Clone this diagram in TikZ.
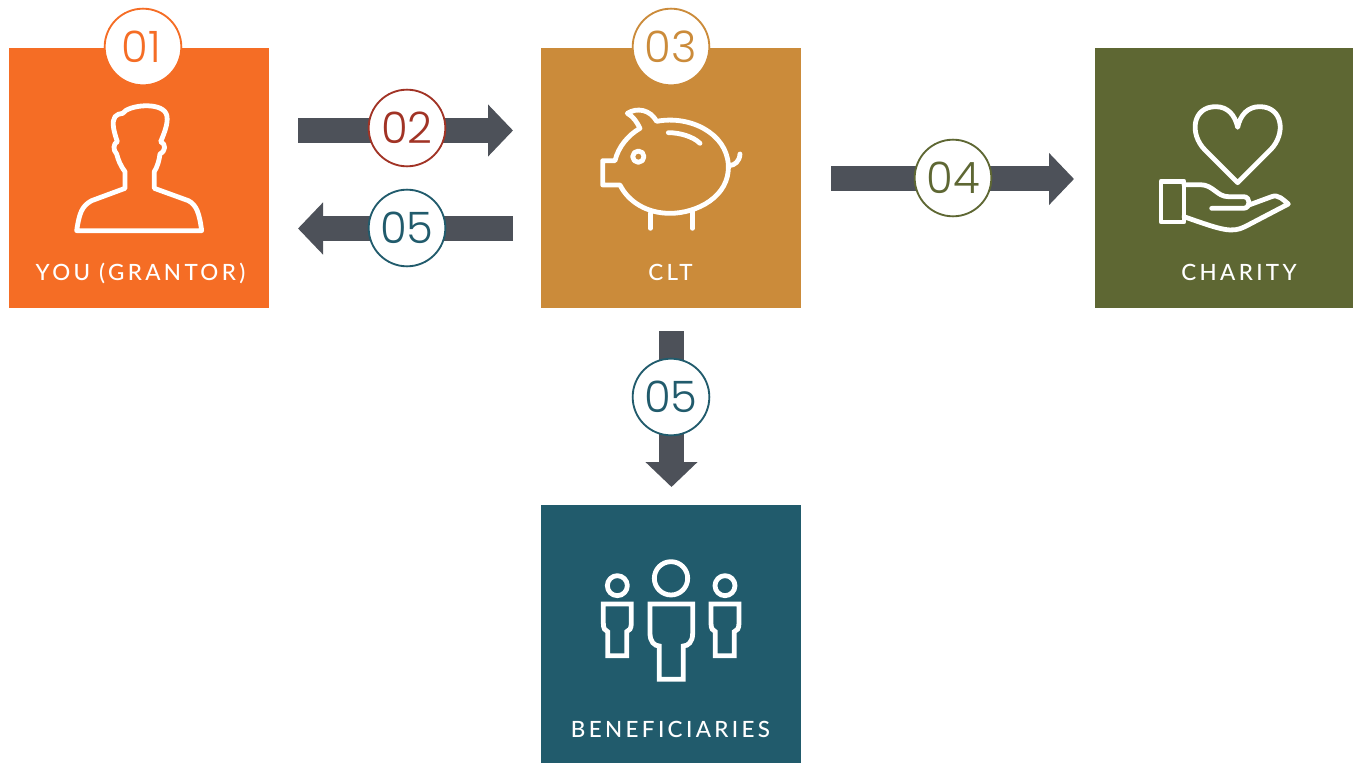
\documentclass[tikz,border=0pt]{standalone}
\usepackage{fontspec}
\newfontfamily\numfont{Poppins Light}
\newfontfamily\tagfont[LetterSpace=15]{Lato Medium}
\usetikzlibrary{arrows.meta,positioning}
\definecolor{youorange}{HTML}{F56D25}
\definecolor{cltgold}{HTML}{CB8B3A}
\definecolor{charityolive}{HTML}{5E6733}
\definecolor{benefteal}{HTML}{215B6C}
\definecolor{arcgray}{HTML}{4D5159}
\definecolor{stepred}{HTML}{A13325}
\tikzset{
	party/.style={
		rectangle,
		inner sep=0pt,
		outer sep=0pt,
		minimum width=195pt,
		minimum height=195pt,
	},
	tag/.style={
		font=\tagfont\fontsize{16.8pt}{20pt}\selectfont,
		text=white,
		inner sep=0pt,
		anchor=base,
	},
	num/.style={
		circle,
		fill=white,
		draw=#1,
		text=#1,
		line width=1.4pt,
		minimum size=57.5pt,
		inner sep=0pt,
		font=\numfont\fontsize{32.5pt}{36pt}\selectfont,
	},
	arc/.style={
		-{Triangle[length=18.75pt,width=38pt]},
		line width=18.75pt,
		arcgray,
	},
	icon/.style={
		draw=white,
		line width=3.6pt,
		line cap=round,
		line join=round,
	},
}

\begin{document}
\begin{tikzpicture}[x=0.75pt,y=-0.75pt]
	\useasboundingbox (0,0) rectangle (1354,763);

	\node [party,fill=youorange] (you) at (139,178) {};
	\node [party,fill=cltgold,right=204pt of you] (clt) {};
	\node [party,fill=charityolive,right=220.5pt of clt,minimum width=193.5pt] (charity) {};
	\node [party,fill=benefteal,below=147.75pt of clt,minimum height=193.5pt] (benef) {};

	\node [tag] (youtag) at (140.5,280.5) {YOU (GRANTOR)};
	\node [tag] (clttag) at (670.5,280.5) {CLT};
	\node [tag] (charitytag) at (1239,280.5) {CHARITY};
	\node [tag] (beneftag) at (670.5,737.5) {BENEFICIARIES};

	\coordinate (a1) at (298,130.5);
	\coordinate (a2) at (513,130.5);
	\coordinate (b1) at (513,228.5);
	\coordinate (b2) at (298,228.5);
	\coordinate (c1) at (831,179);
	\coordinate (c2) at (1074,179);
	\coordinate (d1) at (671.5,331);
	\coordinate (d2) at (671.5,487);

	\draw[arc] (a1) -- (a2);
	\draw[arc] (b1) -- (b2);
	\draw[arc] (c1) -- (c2);
	\draw[arc] (d1) -- (d2);

	\node [num=youorange] (n1) at (143,47) {\kern-3pt 01};
	\node [num=stepred] (n2) at (407,128) {02};
	\node [num=cltgold] (n3) at (671,47) {03};
	\node [num=benefteal] (n5) at (407,228) {05};
	\node [num=charityolive] (n4) at (953,178) {04};
	\node [num=benefteal] (n6) at (671,397) {05};

	% person
	\begin{scope}[shift={(0,0)},x=0.25pt,y=-0.25pt]
		\draw[icon] (230,692) .. controls (238,640) and (245,618) .. (275,602)
			-- (375,565) -- (375,515) .. controls (360,495) and (355,480) .. (350,462)
			.. controls (338,450) and (340,430) .. (352,425)
			.. controls (340,390) and (335,365) .. (345,350)
			.. controls (350,342) and (360,342) .. (368,340)
			.. controls (385,315) and (480,305) .. (498,340)
			.. controls (508,360) and (495,395) .. (482,425)
			.. controls (498,432) and (498,452) .. (480,462)
			.. controls (478,480) and (472,500) .. (463,515)
			-- (463,565) -- (565,602) .. controls (590,615) and (598,640) .. (605,692) -- cycle;
	\end{scope}

	% piggy bank
	\begin{scope}[shift={(530,0)},x=0.25pt,y=-0.25pt]
		\draw[icon] (330,385) .. controls (320,365) and (310,350) .. (292,340)
			.. controls (320,322) and (360,328) .. (380,364)
			.. controls (480,345) and (590,400) .. (595,495)
			.. controls (600,590) and (500,640) .. (420,640)
			.. controls (350,640) and (295,605) .. (270,555)
			-- (218,555) -- (218,482) -- (255,482)
			.. controls (265,440) and (295,405) .. (330,385);
		\draw[icon] (598,497) .. controls (615,495) and (628,485) .. (630,462);
		\draw[icon] (325,470) circle [radius=17];
		\draw[icon] (415,398) .. controls (450,398) and (490,410) .. (510,430);
		\draw[icon] (361,640) -- (361,685);
		\draw[icon] (487,632) -- (487,685);
	\end{scope}

	% heart in hand
	\begin{scope}[shift={(1085,40)},x=0.25pt,y=-0.25pt]
		\draw[icon] (458,428) -- (360,330) .. controls (312,282) and (322,200) .. (392,200)
			.. controls (428,200) and (450,225) .. (458,262)
			.. controls (466,225) and (488,200) .. (524,200)
			.. controls (594,200) and (604,282) .. (556,330) -- cycle;
		\draw[icon] (228,424) rectangle (297,546);
		\draw[icon] (297,434) -- (345,434) .. controls (385,434) and (395,470) .. (430,470)
			-- (475,470) .. controls (498,470) and (498,505) .. (475,505) -- (380,505);
		\draw[icon] (492,495) -- (560,470) .. controls (580,462) and (595,480) .. (610,492)
			-- (480,560) .. controls (440,580) and (410,570) .. (297,530);
	\end{scope}

	% three people
	\begin{scope}[shift={(530,500)},x=0.25pt,y=-0.25pt]
		\draw[icon] (423,235) circle [radius=50];
		\draw[icon,line join=miter] (360,312) -- (488,312) -- (488,400)
			.. controls (488,425) and (475,438) .. (460,438) -- (460,538) -- (388,538) -- (388,438)
			.. controls (373,438) and (360,425) .. (360,400) -- cycle;
		\foreach \dx in {0,323} {
			\draw[icon] (262+\dx,257) circle [radius=30];
			\draw[icon,line join=miter] (220+\dx,312) -- (304+\dx,312) -- (304+\dx,370)
				.. controls (304+\dx,385) and (298+\dx,393) .. (290+\dx,395) -- (290+\dx,467)
				-- (233+\dx,467) -- (233+\dx,395)
				.. controls (225+\dx,393) and (220+\dx,385) .. (220+\dx,370) -- cycle;
		}
	\end{scope}
\end{tikzpicture}
\end{document}
